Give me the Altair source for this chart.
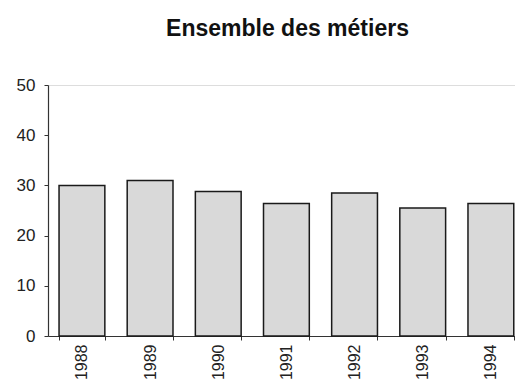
import altair as alt
import pandas as pd

years = ["1988", "1989", "1990", "1991", "1992", "1993", "1994"]
values = [30.0, 31.0, 28.8, 26.4, 28.5, 25.5, 26.4]
y_ticks = [0, 10, 20, 30, 40, 50]

df = pd.DataFrame({"annee": years, "valeur": values})

chart = (
    alt.Chart(df)
    .mark_bar(fill="#d9d9d9", stroke="#1a1a1a", strokeWidth=1.5)
    .encode(
        x=alt.X(
            "annee:N",
            sort=years,
            title=None,
            scale=alt.Scale(paddingInner=0.328, paddingOuter=0.09, align=0.9),
            axis=alt.Axis(
                labelAngle=270,
                labelFont="Liberation Sans",
                labelFontSize=16,
                labelColor="#222222",
                labelPadding=4,
                tickBand="extent",
                tickSize=4,
                tickColor="#333333",
                domainColor="#333333",
                domainWidth=1.2,
                grid=False,
            ),
        ),
        y=alt.Y(
            "valeur:Q",
            title=None,
            scale=alt.Scale(domain=[0, 50], nice=False),
            axis=alt.Axis(
                values=y_ticks,
                labelFont="Liberation Sans",
                labelFontSize=17,
                labelColor="#222222",
                labelPadding=9,
                tickSize=4,
                tickColor="#333333",
                domainColor="#333333",
                domainWidth=1.2,
                grid=False,
            ),
        ),
    )
    .properties(
        width=467,
        height=251,
        autosize=alt.AutoSizeParams(type="none"),
        padding={"left": 40, "top": 77, "right": 0, "bottom": 43},
        title=alt.TitleParams(
            "Ensemble des métiers",
            font="Liberation Sans",
            fontSize=23,
            fontWeight="bold",
            color="#111111",
            anchor="middle",
            frame="group",
            offset=35,
            dx=6,
        ),
    )
    .configure_view(strokeWidth=0, stroke="transparent")
    .configure(background="white")
)

chart.save("out.html", embed_options={"renderer": "svg", "actions": False})
